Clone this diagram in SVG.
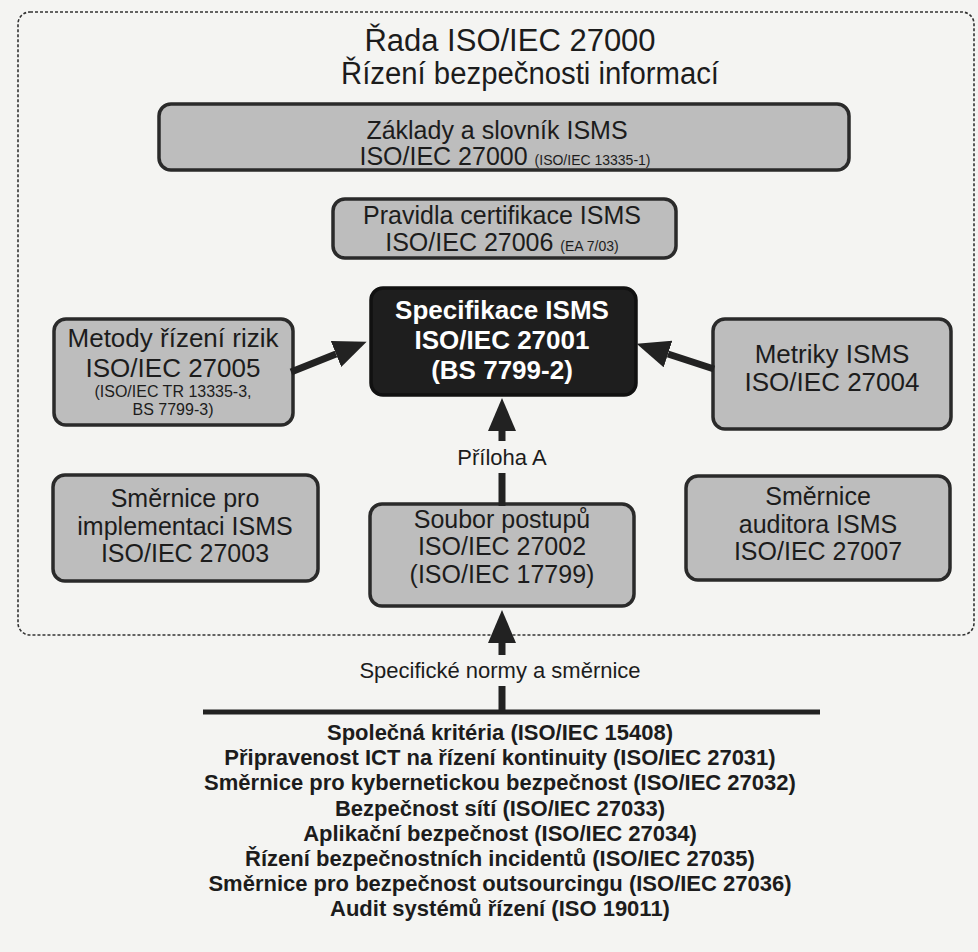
<svg xmlns="http://www.w3.org/2000/svg" width="978" height="952" viewBox="0 0 978 952">
<style>
  text { font-family: "Liberation Sans", Arial, sans-serif; fill: #1c1c1c; text-anchor: middle; }
  .title { font-size: 31px; }
  .box { fill: #bdbdbd; stroke: #2a2a2a; stroke-width: 3.5; }
  .dark { fill: #1e1e1e; stroke: #111; stroke-width: 3.5; }
  .t { font-size: 26px; }
  .u { font-size: 25px; }
  .s { font-size: 14px; }
  .m { font-size: 16px; }
  .w { font-size: 26px; font-weight: bold; fill: #ffffff; }
  .lbl { font-size: 22px; }
  .list { font-size: 22px; font-weight: bold; }
  .shaft { stroke: #222; stroke-width: 7; fill: none; }
</style>
<defs>
  <marker id="head" markerUnits="userSpaceOnUse" markerWidth="34" markerHeight="28" refX="0" refY="14" orient="auto">
    <polygon points="0,0 33,14 0,28" fill="#222"/>
  </marker>
</defs>
<rect width="978" height="952" fill="#f4f4f2"/>
<rect id="frame" x="18" y="12" width="956" height="623" rx="12" fill="none" stroke="#333" stroke-width="1.6" stroke-dasharray="3 2"/>
<g id="title">
  <text class="title" x="510" y="51">Řada ISO/IEC 27000</text>
  <text class="title" x="530" y="84" textLength="378" lengthAdjust="spacingAndGlyphs">Řízení bezpečnosti informací</text>
</g>
<g id="zaklady">
  <rect class="box" x="159" y="104" width="690" height="66" rx="12"/>
  <text class="u" x="497" y="139">Základy a slovník ISMS</text>
  <text x="505" y="165"><tspan class="u">ISO/IEC 27000 </tspan><tspan class="s">(ISO/IEC 13335-1)</tspan></text>
</g>
<g id="pravidla">
  <rect class="box" x="333" y="199" width="343" height="59" rx="12"/>
  <text class="u" x="502" y="224">Pravidla certifikace ISMS</text>
  <text x="502" y="251"><tspan class="u">ISO/IEC 27006 </tspan><tspan class="s">(EA 7/03)</tspan></text>
</g>
<g id="specifikace">
  <rect class="dark" x="371" y="288" width="265" height="107" rx="12"/>
  <text class="w" x="502" y="319">Specifikace ISMS</text>
  <text class="w" x="502" y="349">ISO/IEC 27001</text>
  <text class="w" x="502" y="379">(BS 7799-2)</text>
</g>
<g id="metody">
  <rect class="box" x="54" y="319" width="239" height="106" rx="12"/>
  <text class="t" x="173" y="347">Metody řízení rizik</text>
  <text class="t" x="173" y="377">ISO/IEC 27005</text>
  <text class="m" x="173" y="397">(ISO/IEC  TR 13335-3,</text>
  <text class="m" x="173" y="415">BS 7799-3)</text>
</g>
<g id="metriky">
  <rect class="box" x="713" y="319" width="238" height="110" rx="12"/>
  <text class="t" x="832" y="363">Metriky ISMS</text>
  <text class="t" x="832" y="391">ISO/IEC 27004</text>
</g>
<g id="implementace">
  <rect class="box" x="53" y="475" width="265" height="106" rx="12"/>
  <text class="u" x="185" y="507">Směrnice pro</text>
  <text class="u" x="185" y="535">implementaci ISMS</text>
  <text class="u" x="185" y="562">ISO/IEC 27003</text>
</g>
<g id="soubor">
  <rect class="box" x="370" y="504" width="264" height="102" rx="12"/>
  <text class="u" x="502" y="528">Soubor postupů</text>
  <text class="u" x="502" y="555">ISO/IEC 27002</text>
  <text class="u" x="502" y="583">(ISO/IEC 17799)</text>
</g>
<g id="auditor">
  <rect class="box" x="686" y="476" width="264" height="104" rx="12"/>
  <text class="u" x="818" y="505">Směrnice</text>
  <text class="u" x="818" y="533">auditora ISMS</text>
  <text class="u" x="818" y="560">ISO/IEC 27007</text>
</g>
<g id="connectors">
  <line class="shaft" x1="291" y1="372" x2="336" y2="354" marker-end="url(#head)"/>
  <line class="shaft" x1="714" y1="369" x2="668" y2="354" marker-end="url(#head)"/>
  <line class="shaft" x1="502" y1="506" x2="502" y2="473"/>
  <line class="shaft" x1="502" y1="441" x2="502" y2="431" marker-end="url(#head)"/>
  <text class="lbl" x="502" y="465">Příloha A</text>
  <line class="shaft" x1="502" y1="712" x2="502" y2="686"/>
  <line class="shaft" x1="502" y1="655" x2="502" y2="643" marker-end="url(#head)"/>
  <text class="lbl" x="500" y="678">Specifické normy a směrnice</text>
  <line x1="203" y1="712" x2="820" y2="712" stroke="#222" stroke-width="5"/>
</g>
<g id="list">
  <text class="list" x="500" y="740">Společná kritéria (ISO/IEC 15408)</text>
  <text class="list" x="500" y="765">Připravenost ICT na řízení kontinuity (ISO/IEC 27031)</text>
  <text class="list" x="500" y="790">Směrnice pro kybernetickou bezpečnost (ISO/IEC 27032)</text>
  <text class="list" x="500" y="816">Bezpečnost sítí (ISO/IEC 27033)</text>
  <text class="list" x="500" y="841">Aplikační bezpečnost (ISO/IEC 27034)</text>
  <text class="list" x="500" y="866">Řízení bezpečnostních incidentů (ISO/IEC 27035)</text>
  <text class="list" x="500" y="891">Směrnice pro bezpečnost outsourcingu (ISO/IEC 27036)</text>
  <text class="list" x="500" y="916">Audit systémů řízení (ISO 19011)</text>
</g>
</svg>
